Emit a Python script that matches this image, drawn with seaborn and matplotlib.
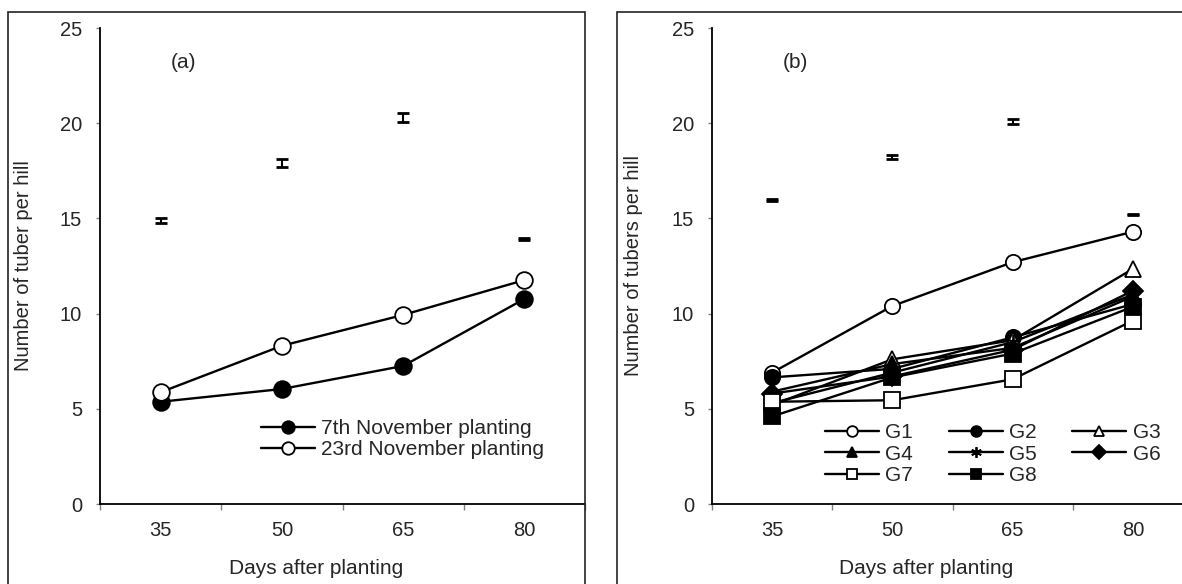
import numpy as np
import pandas as pd
import matplotlib
matplotlib.use("Agg")
import matplotlib.pyplot as plt
from matplotlib.patches import Rectangle
import seaborn as sns

sns.set_style("white")
plt.rcParams['font.family'] = ['Liberation Sans', 'DejaVu Sans']

# data
days = ["35", "50", "65", "80"]

# panel (a): planting dates
nov7 = [5.37, 6.04, 7.25, 10.77]
nov23 = [5.87, 8.31, 9.93, 11.76]
lsd_a = [14.9, 17.9, 20.3, 13.9]
lsd_a_err = [0.12, 0.2, 0.22, 0.05]

# panel (b): genotypes
G1 = [6.9, 10.4, 12.7, 14.3]
G2 = [6.65, 7.1, 8.75, 10.5]
G3 = [5.2, 7.6, 8.6, 12.35]
G4 = [5.9, 7.35, 8.2, 10.9]
G5 = [5.3, 6.9, 8.5, 11.0]
G6 = [5.8, 6.7, 8.1, 11.2]
G7 = [5.37, 5.45, 6.55, 9.63]
G8 = [4.6, 6.65, 7.9, 10.36]
lsd_b = [15.97, 18.24, 20.1, 15.2]
lsd_b_err = [0.04, 0.1, 0.14, 0.04]

xpos = np.arange(len(days))

fig = plt.figure(figsize=(11.82, 5.84), dpi=100)

# outer chart boxes
fig.add_artist(Rectangle((8 / 1182, -0.02), (585 - 8) / 1182, 1 - 12 / 584 + 0.02,
                         transform=fig.transFigure, fill=False, lw=1.2, ec='#222222'))
fig.add_artist(Rectangle((617 / 1182, -0.02), 0.5, 1 - 12 / 584 + 0.02,
                         transform=fig.transFigure, fill=False, lw=1.2, ec='#222222'))

ax_a = fig.add_axes([100 / 1182, 1 - 504 / 584, 485 / 1182, 476 / 584])
ax_b = fig.add_axes([712 / 1182, 1 - 504 / 584, 481 / 1182, 476 / 584])


def style_axes(ax, ylabel):
    ax.set_xlim(-0.5, 3.5)
    ax.set_ylim(0, 25)
    ax.set_yticks([0, 5, 10, 15, 20, 25])
    ax.set_xticks([-0.5, 0.5, 1.5, 2.5, 3.5])
    ax.set_xticklabels([])
    ax.set_xticks(xpos, minor=True)
    ax.set_xticklabels(days, minor=True)
    ax.tick_params(axis='x', which='major', direction='out', length=4.5,
                   color='#808080', width=1, bottom=True)
    ax.tick_params(axis='x', which='minor', length=0, pad=12, labelsize=14.5)
    ax.tick_params(axis='y', direction='out', length=3, color='#808080',
                   width=1, pad=10, labelsize=14.5, left=True)
    for s in ['top', 'right']:
        ax.spines[s].set_visible(False)
    for s in ['left', 'bottom']:
        ax.spines[s].set_color('black')
        ax.spines[s].set_linewidth(1.3)
    ax.set_xlabel("Days after planting", fontsize=15)
    ax.set_ylabel(ylabel, fontsize=14.5)
    ax.xaxis.set_label_coords(0.446, -0.115)


def draw_series(ax, vals, marker, mfc, ms, label):
    sns.lineplot(x=xpos, y=vals, ax=ax, color='black', marker=marker, markersize=ms,
                 markerfacecolor=mfc, markeredgecolor='black', markeredgewidth=1.3,
                 linewidth=1.7, legend=False)
    line = ax.lines[-1]
    line.set_label(label)
    return line


# panel (a)
h1 = draw_series(ax_a, nov7, 'o', 'black', 12, "7th November planting")
h2 = draw_series(ax_a, nov23, 'o', 'white', 12, "23rd November planting")
ax_a.errorbar(xpos, lsd_a, yerr=lsd_a_err, fmt='none', ecolor='black',
              elinewidth=1.5, capsize=4.5, capthick=2)
style_axes(ax_a, "Number of tuber per hill")
ax_a.yaxis.set_label_coords(-0.138, 0.5)
ax_a.text(0.19, 23.2, "(a)", fontsize=15, ha='center', va='center')
ax_a.legend(handles=[h1, h2], loc='upper left', bbox_to_anchor=(0.332, 0.178),
            frameon=False, fontsize=15, borderpad=0, borderaxespad=0,
            handlelength=2.6, handletextpad=0.3, labelspacing=0.1, markerscale=0.75)

# panel (b)
genotypes = [("G1", G1, 'o', 'white'), ("G2", G2, 'o', 'black'),
             ("G3", G3, '^', 'white'), ("G4", G4, '^', 'black'),
             ("G5", G5, (6, 2, 0), 'black'), ("G6", G6, 'D', 'black'),
             ("G7", G7, 's', 'white'), ("G8", G8, 's', 'black')]
handles = []
for name, vals, mk, fc in genotypes:
    ms = 10 if mk == 'D' else 11
    handles.append(draw_series(ax_b, vals, mk, fc, ms, name))
ax_b.errorbar(xpos, lsd_b, yerr=lsd_b_err, fmt='none', ecolor='black',
              elinewidth=1.5, capsize=4.5, capthick=2)
style_axes(ax_b, "Number of tubers per hill")
ax_b.yaxis.set_label_coords(-0.144, 0.5)
ax_b.text(0.19, 23.2, "(b)", fontsize=15, ha='center', va='center')
order = [0, 3, 6, 1, 4, 7, 2, 5]
ax_b.legend(handles=[handles[i] for i in order], ncol=3, loc='upper left',
            bbox_to_anchor=(0.235, 0.17), frameon=False, fontsize=15,
            borderpad=0, borderaxespad=0, handlelength=2.6, handletextpad=0.3,
            labelspacing=0.12, columnspacing=1.7, markerscale=0.7)

fig.savefig("out.png", dpi=100)
